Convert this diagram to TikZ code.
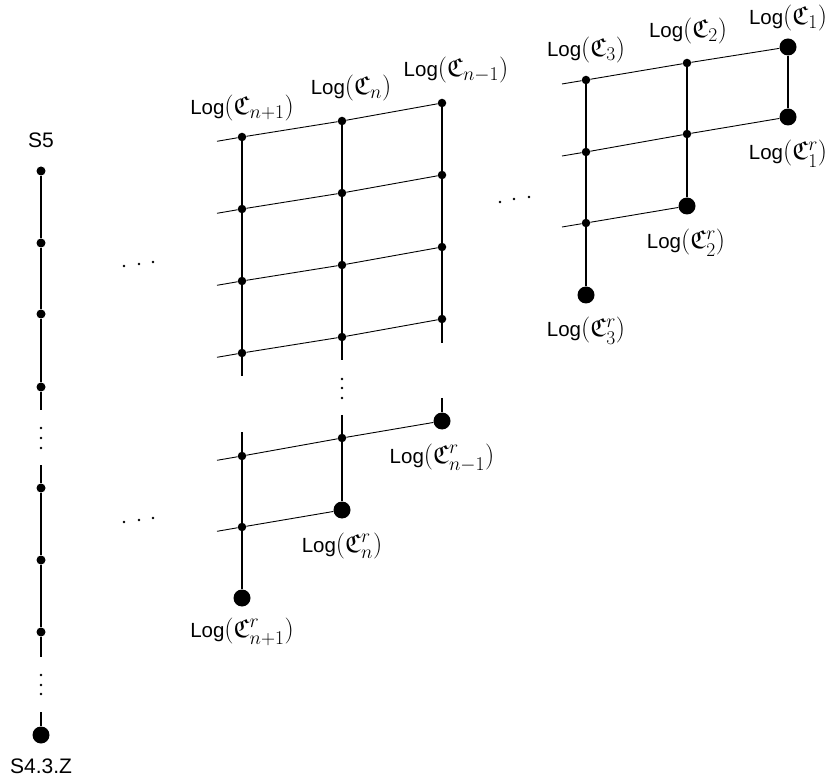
\RequirePackage{fix-cm}
\documentclass[tikz,border=0pt]{standalone}
\usepackage{amssymb}
\usepackage{fontspec}
\setmainfont{Liberation Sans}
\DeclareMathSizes{26}{26}{19.5}{14}
\newcommand{\LG}[1]{{\fontsize{20.5}{25}\selectfont Log}$(#1)$}
\begin{document}
\begin{tikzpicture}[x=1pt,y=-1pt,
  lbl/.style={anchor=base,inner sep=0pt,font=\fontsize{26}{30}\selectfont},
  slbl/.style={anchor=base,inner sep=0pt,font=\fontsize{21}{25}\selectfont},
  sdot/.style={circle,fill=black,inner sep=0pt,minimum size=8.5pt},
  cdot/.style={circle,fill=black,inner sep=0pt,minimum size=9pt},
  bdot/.style={circle,fill=black,inner sep=0pt,minimum size=17pt},
  tdot/.style={circle,fill=black,inner sep=0pt,minimum size=2.6pt},
  vline/.style={line width=2.4pt},
  hline/.style={line width=0.9pt}]
\useasboundingbox (0,0) rectangle (830,783);

% ---------- left chain ----------
\node[slbl] (s5) at (41,148) {S5};
\node[cdot] (c1) at (41,171) {};
\node[cdot] (c2) at (41,243) {};
\node[cdot] (c3) at (41,314) {};
\node[cdot] (c4) at (41,387) {};
\coordinate (c4e) at (41,410);
\node[tdot] (cv1) at (41,428) {};
\node[tdot] (cv2) at (41,438) {};
\node[tdot] (cv3) at (41,448) {};
\coordinate (c5s) at (41,465);
\node[cdot] (c5) at (41,488) {};
\node[cdot] (c6) at (41,560) {};
\node[cdot] (c7) at (41,632) {};
\coordinate (c7e) at (41,657);
\node[tdot] (cw1) at (41,675) {};
\node[tdot] (cw2) at (41,685) {};
\node[tdot] (cw3) at (41,694) {};
\coordinate (c8s) at (41,712);
\node[bdot] (c8) at (41,735) {};
\node[slbl] (s43z) at (41,773) {S4.3.Z};
\draw[vline] (c1) -- (c2) -- (c3) -- (c4) -- (c4e);
\draw[vline] (c5s) -- (c5) -- (c6) -- (c7) -- (c7e);
\draw[vline] (c8s) -- (c8);

% ---------- slanted ellipses ----------
\node[tdot] (ea1) at (124,266) {};
\node[tdot] (ea2) at (139,264) {};
\node[tdot] (ea3) at (153,262) {};
\node[tdot] (eb1) at (124,522) {};
\node[tdot] (eb2) at (139,520) {};
\node[tdot] (eb3) at (153,518) {};
\node[tdot] (ec1) at (500,202) {};
\node[tdot] (ec2) at (514,199) {};
\node[tdot] (ec3) at (529,197) {};

% ---------- middle grid ----------
\foreach \k in {0,1,2,3}{
  \pgfmathsetmacro{\ya}{137+72*\k}
  \pgfmathsetmacro{\yb}{121+72*\k}
  \pgfmathsetmacro{\yc}{103+72*\k}
  \pgfmathsetmacro{\ys}{141.3+72*\k}
  \coordinate (m0\k) at (217,\ys);
  \node[sdot] (ma\k) at (242,\ya) {};
  \node[sdot] (mb\k) at (342,\yb) {};
  \node[sdot] (mc\k) at (442,\yc) {};
  \draw[hline] (m0\k) -- (ma\k) -- (mb\k) -- (mc\k);
}
\coordinate (mae) at (242,376);
\coordinate (mbe) at (342,360);
\coordinate (mce) at (442,343);
\draw[vline] (ma0) -- (ma1) -- (ma2) -- (ma3) -- (mae);
\draw[vline] (mb0) -- (mb1) -- (mb2) -- (mb3) -- (mbe);
\draw[vline] (mc0) -- (mc1) -- (mc2) -- (mc3) -- (mce);
\node[tdot] (mv1) at (342,379) {};
\node[tdot] (mv2) at (342,388) {};
\node[tdot] (mv3) at (342,398) {};

% lower part
\coordinate (mas) at (242,432);
\coordinate (mbs) at (342,415);
\coordinate (mcs) at (442,398);
\coordinate (r0a) at (217,460.3);
\coordinate (r0b) at (217,531.3);
\node[sdot] (la1) at (242,456) {};
\node[sdot] (lb1) at (342,438) {};
\node[bdot] (lc1) at (442,421) {};
\node[sdot] (la2) at (242,527) {};
\node[bdot] (lb2) at (342,510) {};
\node[bdot] (la3) at (242,598) {};
\draw[hline] (r0a) -- (la1) -- (lb1) -- (lc1);
\draw[hline] (r0b) -- (la2) -- (lb2);
\draw[vline] (mas) -- (la1) -- (la2) -- (la3);
\draw[vline] (mbs) -- (lb1) -- (lb2);
\draw[vline] (mcs) -- (lc1);

% middle labels
\node[lbl] (lnp1) at (242,115) {\LG{\mathfrak{C}_{n+1}}};
\node[lbl] (ln) at (351,95) {\LG{\mathfrak{C}_{n}}};
\node[lbl] (lnm1) at (456,77) {\LG{\mathfrak{C}_{n-1}}};
\node[lbl] (lnm1r) at (442,463) {\LG{\mathfrak{C}^r_{n-1}}};
\node[lbl] (lnr) at (342,552) {\LG{\mathfrak{C}^r_{n}}};
\node[lbl] (lnp1r) at (242,637) {\LG{\mathfrak{C}^r_{n+1}}};

% ---------- right grid ----------
\coordinate (q1) at (562,84);
\coordinate (q2) at (562,156);
\coordinate (q3) at (562,227);
\node[sdot] (a1) at (586,80) {};
\node[sdot] (a2) at (586,152) {};
\node[sdot] (a3) at (586,223) {};
\node[bdot] (a4) at (586,295) {};
\node[sdot] (b1) at (687,63) {};
\node[sdot] (b2) at (687,134) {};
\node[bdot] (b3) at (687,206) {};
\node[bdot] (d1) at (788,47) {};
\node[bdot] (d2) at (788,117) {};
\draw[hline] (q1) -- (a1) -- (b1) -- (d1);
\draw[hline] (q2) -- (a2) -- (b2) -- (d2);
\draw[hline] (q3) -- (a3) -- (b3);
\draw[vline] (a1) -- (a2) -- (a3) -- (a4);
\draw[vline] (b1) -- (b2) -- (b3);
\draw[vline] (d1) -- (d2);

\node[lbl] (l3) at (586,57) {\LG{\mathfrak{C}_{3}}};
\node[lbl] (l2) at (688,38) {\LG{\mathfrak{C}_{2}}};
\node[lbl] (l1) at (788,25) {\LG{\mathfrak{C}_{1}}};
\node[lbl] (l1r) at (788,160) {\LG{\mathfrak{C}^r_{1}}};
\node[lbl] (l2r) at (686,249) {\LG{\mathfrak{C}^r_{2}}};
\node[lbl] (l3r) at (586,337) {\LG{\mathfrak{C}^r_{3}}};
\end{tikzpicture}
\end{document}
